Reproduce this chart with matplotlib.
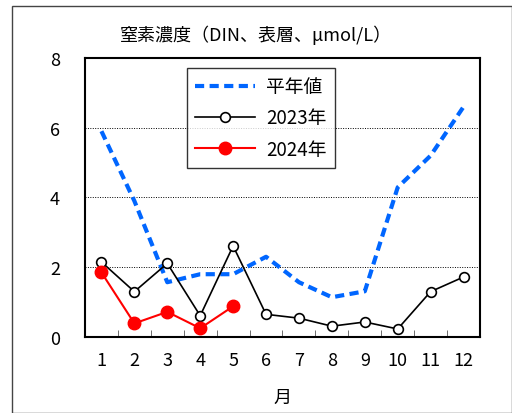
import numpy as np
import matplotlib.pyplot as plt
from matplotlib.patches import Rectangle

plt.rcParams['font.family'] = ['Noto Sans CJK JP', 'DejaVu Sans']

months = [1, 2, 3, 4, 5, 6, 7, 8, 9, 10, 11, 12]
heinen = [5.9, 3.9, 1.57, 1.8, 1.8, 2.3, 1.57, 1.14, 1.31, 4.29, 5.2, 6.6]
y2023 = [2.15, 1.3, 2.11, 0.61, 2.61, 0.65, 0.54, 0.31, 0.43, 0.23, 1.3, 1.72]
months_2024 = [1, 2, 3, 4, 5]
y2024 = [1.85, 0.39, 0.72, 0.25, 0.88]

fig = plt.figure(figsize=(5.12, 4.14), dpi=100)
fig.patches.append(Rectangle((12/512, 0.0), 500/512, 1 - 7/414, transform=fig.transFigure,
                             fill=False, edgecolor='#444444', lw=1.0))
ax = fig.add_axes([0.166, 0.1836, 0.7715, 0.674])

ax.plot(months, heinen, color='#0066FF', lw=3, ls=(0, (2.2, 1.3)), label='平年値', zorder=3)
ax.plot(months, y2023, color='black', lw=1.2, marker='o', ms=7, mfc='white', mec='black',
        mew=1.2, label='2023年', zorder=4)
ax.plot(months_2024, y2024, color='#FF0000', lw=1.5, marker='o', ms=9, mfc='#FF0000',
        mec='#FF0000', label='2024年', zorder=5)

ax.set_xlim(0.5, 12.5)
ax.set_ylim(0, 8)
ax.set_yticks([0, 2, 4, 6, 8])
ax.set_xticks(months)
ax.set_xticks(np.arange(1.5, 12.5, 1), minor=True)
ax.tick_params(axis='x', which='major', length=0, pad=10, labelsize=13)
ax.tick_params(axis='x', which='minor', direction='in', length=5, color='#555555')
ax.tick_params(axis='y', length=0, pad=18, labelsize=13)
for g in [2, 4, 6]:
    ax.axhline(g, color='black', lw=0.7, ls=(0, (1, 1.5)), zorder=1)
for s in ax.spines.values():
    s.set_linewidth(1.5)

ax.set_xlabel('月', fontsize=13, labelpad=14)
fig.text(0.5, 0.9, '窒素濃度（DIN、表層、μmol/L）', ha='center', fontsize=13)

leg = ax.legend(loc='upper left', bbox_to_anchor=(0.257, 0.965), fontsize=13.5, frameon=True,
                fancybox=False, edgecolor='black', handlelength=3.2, borderpad=0.45,
                labelspacing=0.55, handletextpad=0.6, borderaxespad=0)
leg.get_frame().set_linewidth(1.0)

fig.savefig('out.png', dpi=100)
